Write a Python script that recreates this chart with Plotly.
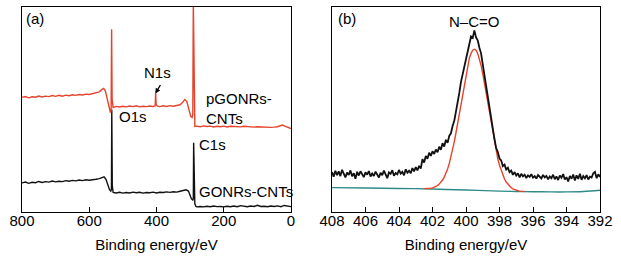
import numpy as np
import plotly.graph_objects as go

# ---------------- Panel (a): survey spectra ----------------
a_black_x = [800, 790, 780, 770, 760, 750, 740, 730, 720, 710, 700, 690, 680, 670, 660, 650, 640, 630, 620, 610,
             600, 590, 580, 570, 562, 556, 550, 545, 540, 536, 534, 533, 531.5, 529, 520, 510, 500, 490, 480, 470,
             460, 450, 440, 430, 420, 410, 400, 390, 380, 370, 360, 350, 340, 330, 320, 312, 305, 300, 296, 292,
             290.5, 289.5, 288, 286, 283, 280, 270, 260, 250, 240, 230, 220, 210, 200, 190, 180, 170, 160, 150, 140,
             130, 120, 110, 100, 90, 80, 70, 60, 50, 40, 30, 20, 10, 0]
a_black_y = [14.2, 14.6, 14.0, 14.5, 14.3, 14.9, 14.4, 14.8, 14.6, 15.1, 14.7, 15.0, 14.8, 15.3, 15.0, 15.4, 15.2, 15.6, 15.3, 15.7,
             15.5, 15.9, 16.0, 16.3, 16.9, 17.2, 15.8, 13.0, 11.0, 10.2, 11.0, 50.0, 13.0, 9.6, 9.3, 9.6, 9.2, 9.5, 9.3, 9.7,
             9.4, 9.6, 9.2, 9.5, 9.4, 9.7, 9.3, 9.6, 9.5, 9.8, 9.6, 9.9, 9.7, 10.1, 10.3, 10.8, 10.2, 8.0, 6.4, 5.8,
             6.5, 33.8, 12.0, 4.0, 2.8, 2.5, 2.7, 2.5, 2.8, 2.6, 2.9, 2.6, 2.7, 2.5, 2.8, 2.6, 2.9, 2.6, 3.1, 2.7,
             2.6, 2.9, 2.7, 3.3, 2.7, 2.8, 2.6, 2.9, 2.7, 3.0, 2.6, 3.2, 2.8, 2.6]

a_red_x = [800, 790, 780, 770, 760, 750, 740, 730, 720, 710, 700, 690, 680, 670, 660, 650, 640, 630, 620, 610,
           600, 590, 580, 570, 562, 557, 552, 546, 541, 537, 535, 533.5, 532, 529, 520, 510, 500, 490, 480, 470,
           460, 450, 440, 430, 420, 410, 404, 402.5, 401, 397, 390, 380, 370, 360, 350, 340, 330, 322, 316, 310,
           304, 298, 294, 292, 290.5, 288.5, 286, 280, 270, 260, 250, 240, 230, 220, 210, 200, 190, 180, 170, 160,
           150, 140, 130, 120, 110, 100, 90, 80, 70, 60, 50, 40, 30, 25, 20, 10, 0]
a_red_y = [55.9, 56.3, 55.7, 56.2, 56.0, 56.6, 56.1, 56.5, 56.3, 56.8, 56.4, 56.9, 56.5, 57.0, 56.7, 57.2, 56.9, 57.3, 57.1, 57.5,
           57.3, 57.8, 58.0, 58.6, 59.8, 60.3, 59.0, 55.0, 50.5, 48.5, 49.5, 89.2, 55.0, 51.0, 51.5, 51.2, 51.6, 51.3, 51.7, 51.4,
           51.8, 51.3, 51.6, 51.4, 51.7, 51.5, 51.8, 58.2, 52.3, 51.6, 51.4, 51.8, 51.5, 51.9, 51.6, 52.0, 52.3, 53.5, 54.9, 54.0,
           50.5, 46.5, 46.1, 48.0, 103.0, 60.0, 41.7, 41.9, 41.6, 42.0, 41.7, 41.9, 41.5, 41.8, 41.6, 41.9, 41.5, 41.8, 41.6, 41.7,
           41.5, 41.8, 41.6, 41.7, 41.4, 41.6, 41.5, 41.3, 41.5, 41.3, 41.4, 41.6, 42.2, 42.4, 42.0, 41.2, 40.7]

# ---------------- Panel (b): N1s high-resolution ----------------
b_black_y = [19.5, 17.2, 20.1, 18.0, 19.8, 17.5, 20.6, 18.4, 16.9, 19.2,
             18.1, 20.3, 17.4, 18.9, 16.2, 19.6, 17.8, 19.9, 18.3, 17.0,
             19.4, 18.2, 20.0, 17.3, 18.8, 17.6, 19.7, 18.5, 16.8, 19.1,
             17.9, 20.2, 18.0, 16.5, 19.3, 18.6, 20.4, 17.7, 19.0, 18.4,
             20.5, 18.7, 19.6, 17.9, 20.8, 19.2, 20.1, 18.9, 21.4, 19.8,
             21.9, 20.3, 22.5, 21.2, 25.8, 24.1, 27.3, 26.0, 28.9, 27.4,
             29.6, 28.3, 30.5, 29.1, 31.8, 30.4, 33.6, 31.9, 35.2, 33.8,
             37.1, 38.4, 41.9, 44.5, 49.0, 53.2, 58.1, 63.5, 67.2, 72.4,
             76.0, 79.8, 82.3, 85.6, 84.9, 88.6, 85.2, 83.7, 80.1, 77.4,
             72.0, 66.8, 60.5, 54.9, 49.2, 45.0, 39.1, 35.6, 31.2, 29.3,
             26.1, 25.2, 22.4, 23.1, 20.7, 21.6, 19.4, 20.2, 18.1, 19.5,
             17.8, 18.9, 16.9, 18.6, 17.4, 18.2, 16.6, 17.9, 17.1, 18.4,
             16.8, 17.5, 16.3, 18.0, 17.2, 16.4, 18.1, 16.9, 17.6, 15.9,
             17.3, 16.5, 18.2, 16.0, 17.4, 15.6, 17.8, 16.7, 18.5, 15.8,
             17.0, 14.9, 17.6, 16.2, 18.3, 15.4, 17.9, 16.1, 18.7, 15.7,
             17.5, 16.4, 18.0, 15.9, 17.2, 16.8, 18.9, 19.6, 16.5, 18.4,
             17.1]
b_black_x = np.round(np.linspace(408.0, 392.0, len(b_black_y)), 1)

b_fit_x = [402.5, 402.4, 402.3, 402.2, 402.1, 402.0, 401.9, 401.8, 401.7, 401.6,
           401.5, 401.4, 401.3, 401.2, 401.1, 401.0, 400.9, 400.8, 400.7, 400.6,
           400.5, 400.4, 400.3, 400.2, 400.1, 400.0, 399.9, 399.8, 399.7, 399.6,
           399.5, 399.4, 399.3, 399.2, 399.1, 399.0, 398.9, 398.8, 398.7, 398.6,
           398.5, 398.4, 398.3, 398.2, 398.1, 398.0, 397.9, 397.8, 397.7, 397.6,
           397.5, 397.4, 397.3, 397.2, 397.1, 397.0, 396.9, 396.8, 396.7, 396.6, 396.5]
b_fit_y = [11.4, 11.4, 11.5, 11.6, 11.6, 11.8, 12.1, 12.5, 12.9, 13.6,
           14.5, 15.6, 17.0, 18.8, 21.0, 23.6, 26.7, 30.2, 34.2, 38.6,
           43.2, 48.2, 53.3, 58.4, 63.2, 67.7, 71.7, 75.0, 77.4, 78.9,
           79.4, 78.9, 77.3, 74.8, 71.5, 67.5, 62.9, 58.0, 52.9, 47.8,
           42.7, 38.0, 33.6, 29.6, 25.9, 22.8, 20.2, 18.0, 16.1, 14.6,
           13.5, 12.6, 11.8, 11.3, 10.9, 10.6, 10.4, 10.2, 10.1, 10.0, 10.0]

b_bg_x = [408, 406, 404, 402, 400, 398, 397, 396, 395, 394, 393, 392]
b_bg_y = [11.9, 11.7, 11.5, 11.2, 10.7, 10.2, 10.0, 9.9, 9.8, 9.8, 10.0, 10.6]

a_ticks = [800, 600, 400, 200, 0]
b_ticks = [408, 406, 404, 402, 400, 398, 396, 394, 392]

FONT = "Arial, Liberation Sans, sans-serif"
RED = "#e5432b"
BLACK = "#111111"
TEAL = "#2f8a88"

fig = go.Figure()
fig.add_trace(go.Scatter(x=a_black_x, y=a_black_y, mode="lines", line=dict(color=BLACK, width=1.4),
                         xaxis="x", yaxis="y", showlegend=False))
fig.add_trace(go.Scatter(x=a_red_x, y=a_red_y, mode="lines", line=dict(color=RED, width=1.4),
                         xaxis="x", yaxis="y", showlegend=False))
fig.add_trace(go.Scatter(x=b_bg_x, y=b_bg_y, mode="lines", line=dict(color=TEAL, width=1.4, shape="spline"),
                         xaxis="x2", yaxis="y2", showlegend=False))
fig.add_trace(go.Scatter(x=b_fit_x, y=b_fit_y, mode="lines", line=dict(color=RED, width=1.4),
                         xaxis="x2", yaxis="y2", showlegend=False))
fig.add_trace(go.Scatter(x=b_black_x, y=b_black_y, mode="lines", line=dict(color=BLACK, width=1.8),
                         xaxis="x2", yaxis="y2", showlegend=False))

axis_common = dict(showline=True, linecolor="black", linewidth=1, mirror=True, showgrid=False,
                   zeroline=False)
xcommon = dict(axis_common, ticks="inside", ticklen=5, tickwidth=1, tickcolor="black",
               tickfont=dict(family=FONT, size=15, color="black"), ticklabelstandoff=-5,
               title=dict(text="Binding energy/eV", font=dict(family=FONT, size=15, color="black"), standoff=11))
ycommon = dict(axis_common, showticklabels=False, ticks="", range=[0, 100])

l_frac = 269 / 578
r_start = 310 / 578
fig.update_layout(
    width=621, height=262,
    margin=dict(l=22, r=21, t=7, b=50),
    paper_bgcolor="white", plot_bgcolor="white",
    font=dict(family=FONT, size=15, color="black"),
    xaxis=dict(xcommon, domain=[0, l_frac], range=[800, 0], tickvals=a_ticks),
    yaxis=dict(ycommon, anchor="x"),
    xaxis2=dict(xcommon, domain=[r_start, 1], range=[408, 392], tickvals=b_ticks, anchor="y2"),
    yaxis2=dict(ycommon, anchor="x2"),
)

ann = [
    dict(text="(a)", x=794, y=94.6, xref="x", yref="y", xanchor="left", yanchor="middle", showarrow=False),
    dict(text="N1s", x=398.5, y=68.1, xref="x", yref="y", xanchor="center", yanchor="middle", showarrow=False),
    dict(text="pGONRs-<br>CNTs", x=258, y=50.5, xref="x", yref="y", xanchor="left", yanchor="middle",
         align="left", showarrow=False),
    dict(text="O1s", x=518, y=46.6, xref="x", yref="y", xanchor="left", yanchor="middle", showarrow=False),
    dict(text="C1s", x=281, y=32.8, xref="x", yref="y", xanchor="left", yanchor="middle", showarrow=False),
    dict(text="GONRs-CNTs", x=281, y=9.8, xref="x", yref="y", xanchor="left", yanchor="middle", showarrow=False),
    dict(text="", x=403.5, y=57.8, xref="x", yref="y", showarrow=True, ax=6, ay=-10,
         arrowhead=2, arrowsize=0.8, arrowwidth=1.3, arrowcolor="black"),
    dict(text="(b)", x=407.75, y=94.6, xref="x2", yref="y2", xanchor="left", yanchor="middle", showarrow=False),
    dict(text="N\u2013C=O", x=399.55, y=93.1, xref="x2", yref="y2", xanchor="center", yanchor="middle",
         showarrow=False),
]
for a in ann:
    a["font"] = dict(family=FONT, size=15, color="black")
fig.update_layout(annotations=ann)

fig.write_html("out.html", config={"displayModeBar": False},
               post_script="document.body.style.margin='0';")
